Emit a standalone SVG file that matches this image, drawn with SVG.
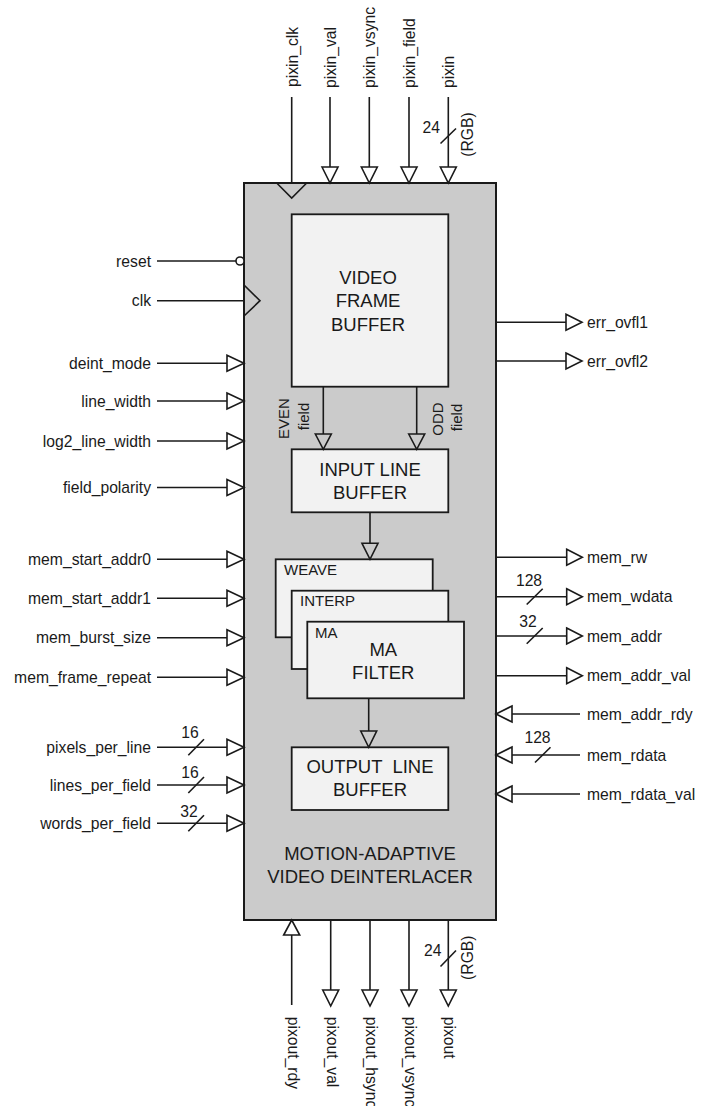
<svg xmlns="http://www.w3.org/2000/svg" width="707" height="1106" viewBox="0 0 707 1106">
<style>
.ln{stroke:#1a1a1a;stroke-width:1.6;fill:none}
.tri{fill:#fff;stroke:#1a1a1a;stroke-width:1.6;stroke-linejoin:miter}
.itri{fill:none;stroke:#1a1a1a;stroke-width:1.6;stroke-linejoin:miter}
.box{fill:#f2f2f2;stroke:#1a1a1a;stroke-width:1.8}
.lbl{font-family:"Liberation Sans",Arial,sans-serif;font-size:15.7px;fill:#1a1a1a}
.sm{font-family:"Liberation Sans",Arial,sans-serif;font-size:15px;fill:#1a1a1a}
.big{font-family:"Liberation Sans",Arial,sans-serif;font-size:18.5px;fill:#1a1a1a;text-anchor:middle}
.end{text-anchor:end}
.mid{text-anchor:middle}
</style>
<rect width="707" height="1106" fill="#fff"/>
<g id="main">
<rect x="244" y="183" width="252" height="737" fill="#cbcbcb" stroke="#1a1a1a" stroke-width="2"/>
<text class="big" x="370" y="860">MOTION-ADAPTIVE</text>
<text class="big" x="370" y="883.3">VIDEO DEINTERLACER</text>
<polyline class="ln" points="276.7,183 291.7,198 306.7,183"/>
<polyline class="ln" points="244,285 260,300.7 244,316"/>
</g>
<g id="vfb">
<rect class="box" x="291.7" y="214.3" width="156.6" height="172.4"/>
<text class="big" x="368" y="284">VIDEO</text>
<text class="big" x="368" y="306.7">FRAME</text>
<text class="big" x="368" y="330.7">BUFFER</text>
</g>
<g id="ilb">
<rect class="box" x="291.7" y="449.3" width="156.6" height="63"/>
<text class="big" x="370" y="476">INPUT LINE</text>
<text class="big" x="370" y="499">BUFFER</text>
</g>
<g id="weave">
<rect class="box" x="275.7" y="559.3" width="157" height="78"/>
<text class="sm" x="284" y="575">WEAVE</text>
</g>
<g id="interp">
<rect class="box" x="291.7" y="590.7" width="156.6" height="78.3"/>
<text class="sm" x="300" y="606">INTERP</text>
</g>
<g id="ma">
<rect class="box" x="307.3" y="621.7" width="156.7" height="76.6"/>
<text class="sm" x="315" y="637.7">MA</text>
<text class="big" x="383.3" y="656">MA</text>
<text class="big" x="383.3" y="679.3">FILTER</text>
</g>
<g id="olb">
<rect class="box" x="291.7" y="747.3" width="156.6" height="62.7"/>
<text class="big" x="370" y="773.3" xml:space="preserve">OUTPUT  LINE</text>
<text class="big" x="370" y="796">BUFFER</text>
</g>
<g id="connectors">
<!-- internal -->
<line class="ln" x1="323.3" y1="386.7" x2="323.3" y2="434"/>
<polygon class="itri" points="315.3,434 323.3,449.3 331.3,434"/>
<line class="ln" x1="416.7" y1="386.7" x2="416.7" y2="434"/>
<polygon class="itri" points="408.7,434 416.7,449.3 424.7,434"/>
<text class="sm mid" transform="translate(289,418.5) rotate(-90)">EVEN</text>
<text class="sm mid" transform="translate(309.3,416.5) rotate(-90)">field</text>
<text class="sm mid" transform="translate(442.7,419) rotate(-90)">ODD</text>
<text class="sm mid" transform="translate(461.7,417.5) rotate(-90)">field</text>
<line class="ln" x1="370" y1="512.3" x2="370" y2="543.3"/>
<polygon class="itri" points="362,543.3 370,559.3 378,543.3"/>
<line class="ln" x1="368.7" y1="698.3" x2="368.7" y2="731"/>
<polygon class="itri" points="360.7,731 368.7,747.3 376.7,731"/>

<!-- top inputs -->
<line class="ln" x1="291.7" y1="97" x2="291.7" y2="183"/>
<text class="lbl" transform="translate(297.5,87) rotate(-90)">pixin_clk</text>
<line class="ln" x1="330" y1="97" x2="330" y2="167"/>
<polygon class="tri" points="322,167 330,183 338,167"/>
<text class="lbl" transform="translate(335.8,88) rotate(-90)">pixin_val</text>
<line class="ln" x1="369.3" y1="97" x2="369.3" y2="167"/>
<polygon class="tri" points="361.3,167 369.3,183 377.3,167"/>
<text class="lbl" transform="translate(375.1,88) rotate(-90)">pixin_vsync</text>
<line class="ln" x1="409" y1="97" x2="409" y2="167"/>
<polygon class="tri" points="401,167 409,183 417,167"/>
<text class="lbl" transform="translate(414.8,88) rotate(-90)">pixin_field</text>
<line class="ln" x1="448.3" y1="97" x2="448.3" y2="167"/>
<polygon class="tri" points="440.3,167 448.3,183 456.3,167"/>
<text class="lbl" transform="translate(454.1,88) rotate(-90)">pixin</text>
<line class="ln" x1="440.5" y1="143.5" x2="456" y2="128.5"/>
<text class="lbl end" x="440" y="133">24</text>
<text class="lbl mid" transform="translate(472.5,134.5) rotate(-90)">(RGB)</text>

<!-- bottom -->
<line class="ln" x1="291.7" y1="935" x2="291.7" y2="1005"/>
<polygon class="tri" points="283.7,935 291.7,920 299.7,935"/>
<text class="lbl" transform="translate(287.7,1016.7) rotate(90)">pixout_rdy</text>
<line class="ln" x1="330.7" y1="920" x2="330.7" y2="990"/>
<polygon class="tri" points="322.7,990 330.7,1006 338.7,990"/>
<text class="lbl" transform="translate(326.7,1016.7) rotate(90)">pixout_val</text>
<line class="ln" x1="370" y1="920" x2="370" y2="990"/>
<polygon class="tri" points="362,990 370,1006 378,990"/>
<text class="lbl" transform="translate(366,1016.7) rotate(90)">pixout_hsync</text>
<line class="ln" x1="409" y1="920" x2="409" y2="990"/>
<polygon class="tri" points="401,990 409,1006 417,990"/>
<text class="lbl" transform="translate(405,1016.7) rotate(90)">pixout_vsync</text>
<line class="ln" x1="448.3" y1="920" x2="448.3" y2="990"/>
<polygon class="tri" points="440.3,990 448.3,1006 456.3,990"/>
<text class="lbl" transform="translate(444.3,1016.7) rotate(90)">pixout</text>
<line class="ln" x1="440.5" y1="966.5" x2="456" y2="950.5"/>
<text class="lbl end" x="441.5" y="956">24</text>
<text class="lbl mid" transform="translate(472.5,957.7) rotate(-90)">(RGB)</text>

<!-- left -->
<line class="ln" x1="157" y1="261" x2="236" y2="261"/>
<circle cx="240" cy="261" r="4" fill="#fff" stroke="#1a1a1a" stroke-width="1.6"/>
<text class="lbl end" x="151" y="266.5">reset</text>
<line class="ln" x1="157" y1="300.7" x2="244" y2="300.7"/>
<text class="lbl end" x="151" y="306.2">clk</text>

<line class="ln" x1="157" y1="363.3" x2="227" y2="363.3"/>
<polygon class="tri" points="227,355.3 244,363.3 227,371.3"/>
<text class="lbl end" x="151" y="368.8">deint_mode</text>
<line class="ln" x1="157" y1="401" x2="227" y2="401"/>
<polygon class="tri" points="227,393 244,401 227,409"/>
<text class="lbl end" x="151" y="406.5">line_width</text>
<line class="ln" x1="157" y1="441" x2="227" y2="441"/>
<polygon class="tri" points="227,433 244,441 227,449"/>
<text class="lbl end" x="151" y="446.5">log2_line_width</text>
<line class="ln" x1="157" y1="487.5" x2="227" y2="487.5"/>
<polygon class="tri" points="227,479.5 244,487.5 227,495.5"/>
<text class="lbl end" x="151" y="493">field_polarity</text>

<line class="ln" x1="157" y1="559.3" x2="227" y2="559.3"/>
<polygon class="tri" points="227,551.3 244,559.3 227,567.3"/>
<text class="lbl end" x="151" y="564.8">mem_start_addr0</text>
<line class="ln" x1="157" y1="598.3" x2="227" y2="598.3"/>
<polygon class="tri" points="227,590.3 244,598.3 227,606.3"/>
<text class="lbl end" x="151" y="603.8">mem_start_addr1</text>
<line class="ln" x1="157" y1="637.7" x2="227" y2="637.7"/>
<polygon class="tri" points="227,629.7 244,637.7 227,645.7"/>
<text class="lbl end" x="151" y="643.2">mem_burst_size</text>
<line class="ln" x1="157" y1="677.3" x2="227" y2="677.3"/>
<polygon class="tri" points="227,669.3 244,677.3 227,685.3"/>
<text class="lbl end" x="151" y="682.8">mem_frame_repeat</text>

<line class="ln" x1="157" y1="747.3" x2="227" y2="747.3"/>
<polygon class="tri" points="227,739.3 244,747.3 227,755.3"/>
<line class="ln" x1="188.3" y1="755.3" x2="204" y2="739.3"/>
<text class="lbl mid" x="190" y="738">16</text>
<text class="lbl end" x="151" y="752.8">pixels_per_line</text>
<line class="ln" x1="157" y1="785" x2="227" y2="785"/>
<polygon class="tri" points="227,777 244,785 227,793"/>
<line class="ln" x1="188.3" y1="793" x2="204" y2="777"/>
<text class="lbl mid" x="190" y="777.7">16</text>
<text class="lbl end" x="151" y="790.5">lines_per_field</text>
<line class="ln" x1="157" y1="823.3" x2="227" y2="823.3"/>
<polygon class="tri" points="227,815.3 244,823.3 227,831.3"/>
<line class="ln" x1="188.3" y1="831.3" x2="204" y2="815.3"/>
<text class="lbl mid" x="189" y="816.7">32</text>
<text class="lbl end" x="151" y="828.8">words_per_field</text>

<!-- right outputs -->
<line class="ln" x1="496" y1="322.3" x2="566" y2="322.3"/>
<polygon class="tri" points="566,314.3 582,322.3 566,330.3"/>
<text class="lbl" x="587" y="327.8">err_ovfl1</text>
<line class="ln" x1="496" y1="361" x2="566" y2="361"/>
<polygon class="tri" points="566,353 582,361 566,369"/>
<text class="lbl" x="587" y="366.5">err_ovfl2</text>

<line class="ln" x1="496" y1="557.3" x2="566.7" y2="557.3"/>
<polygon class="tri" points="566.7,549.3 582.3,557.3 566.7,565.3"/>
<text class="lbl" x="587" y="562.8">mem_rw</text>
<line class="ln" x1="496" y1="596.7" x2="566.7" y2="596.7"/>
<polygon class="tri" points="566.7,588.7 582.3,596.7 566.7,604.7"/>
<line class="ln" x1="526.7" y1="604.5" x2="542.7" y2="588.7"/>
<text class="lbl mid" x="529" y="585.5">128</text>
<text class="lbl" x="587" y="602.2">mem_wdata</text>
<line class="ln" x1="496" y1="636" x2="566.7" y2="636"/>
<polygon class="tri" points="566.7,628 582.3,636 566.7,644"/>
<line class="ln" x1="526.7" y1="643.8" x2="542.7" y2="628"/>
<text class="lbl mid" x="528" y="626.5">32</text>
<text class="lbl" x="587" y="641.5">mem_addr</text>
<line class="ln" x1="496" y1="675.7" x2="566.7" y2="675.7"/>
<polygon class="tri" points="566.7,667.7 582.3,675.7 566.7,683.7"/>
<text class="lbl" x="587" y="681.2">mem_addr_val</text>

<!-- right inputs -->
<line class="ln" x1="512" y1="714" x2="580" y2="714"/>
<polygon class="tri" points="512,706 496,714 512,722"/>
<text class="lbl" x="587" y="719.5">mem_addr_rdy</text>
<line class="ln" x1="512" y1="755" x2="580" y2="755"/>
<polygon class="tri" points="512,747 496,755 512,763"/>
<line class="ln" x1="535" y1="762.5" x2="550.5" y2="747.3"/>
<text class="lbl mid" x="537.5" y="743">128</text>
<text class="lbl" x="587" y="760.5">mem_rdata</text>
<line class="ln" x1="512" y1="794" x2="580" y2="794"/>
<polygon class="tri" points="512,786 496,794 512,802"/>
<text class="lbl" x="587" y="799.5">mem_rdata_val</text>
</g>
</svg>
